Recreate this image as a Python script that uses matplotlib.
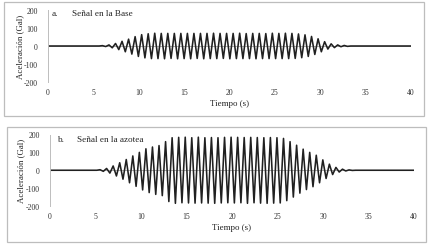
import numpy as np
import matplotlib
matplotlib.use("Agg")
import matplotlib.pyplot as plt
from matplotlib.patches import Rectangle

plt.rcParams['font.family'] = ['Liberation Serif', 'DejaVu Serif']
plt.rcParams['axes.unicode_minus'] = False

# peak amplitudes (Gal), one per half cycle, sign alternates
half_period = 0.36  # s
t0_base = 6.0
amp_base = [2, 3, 6, 10, 14, 20, 26, 32, 38, 45, 52, 58, 63, 66, 68,
            70, 71, 70, 70, 71, 70, 69, 70, 71, 70, 70, 70, 71, 70, 69,
            70, 71, 70, 70, 71, 70, 70, 69, 70, 71, 70, 70, 71, 70, 69,
            70, 70, 71, 70, 70, 69, 70, 71, 70, 70, 70, 71, 70,
            70, 69, 67, 65, 62, 58, 53, 47, 40, 32, 24, 17, 12, 9, 6, 4, 3, 2]

t0_top = 5.5
amp_top = [3, 6, 10, 16, 24, 32, 42, 50, 60, 70, 80, 90, 100, 110, 120, 125,
           130, 135, 138, 142, 160, 175, 182, 185,
           184, 182, 185, 183, 182, 184, 185, 183, 182, 184, 183, 185, 182, 183,
           184, 182, 185, 183, 184, 182, 183, 185, 184, 182, 183, 184, 182, 185,
           183, 184, 182, 183,
           178, 170, 160, 150, 140, 128, 118, 108, 100, 92, 84, 70, 58, 46, 34,
           24, 16, 10, 6, 4, 2, 1]

x_ticks = [0, 5, 10, 15, 20, 25, 30, 35, 40]
y_ticks = [200, 100, 0, -100, -200]
titles = ["Señal en la Base", "Señal en la azotea"]
letters = ["a.", "b."]

W, H = 431, 251
fig = plt.figure(figsize=(W / 100, H / 100), dpi=100)


def signal(t0, amps):
    amps = np.array(amps, dtype=float)
    signs = np.where(np.arange(len(amps)) % 2 == 0, 1.0, -1.0)
    t = t0 + half_period * np.arange(len(amps))
    t = np.concatenate([[0, t0 - half_period], t, [t[-1] + half_period, 40]])
    y = np.concatenate([[0, 0], amps * signs, [0, 0]])
    return t, y


def px(x0, y0, x1, y1):
    # pixel box (top-left origin) -> figure fraction
    return [x0 / W, 1 - y1 / H, (x1 - x0) / W, (y1 - y0) / H]


panels = [
    dict(box=(4, 3, 424, 117), ax=(48, 11, 411, 83), t0=t0_base, amp=amp_base,
         lx=52, tx=72, ty=14.5, ylx=24),
    dict(box=(7, 128, 426, 243), ax=(50, 135.5, 414, 207), t0=t0_top, amp=amp_top,
         lx=58, tx=77, ty=140, ylx=25),
]

for i, p in enumerate(panels):
    b = p['box']
    fig.patches.append(Rectangle((b[0] / W, 1 - b[3] / H), (b[2] - b[0]) / W,
                                 (b[3] - b[1]) / H, transform=fig.transFigure,
                                 fill=False, edgecolor='#bdbdbd', lw=0.9))
    ax = fig.add_axes(px(*p['ax']))
    t, y = signal(p['t0'], p['amp'])
    ax.axhline(0, color='#8c8c8c', lw=0.5, zorder=1)
    ax.plot(t, y, color='#202020', lw=1.15, zorder=2, solid_joinstyle='round')
    ax.set_xlim(0, 40)
    ax.set_ylim(-200, 200)
    for s in ['top', 'right', 'bottom']:
        ax.spines[s].set_visible(False)
    ax.spines['left'].set_color('#bdbdbd')
    ax.spines['left'].set_linewidth(0.7)
    ax.set_xticks(x_ticks)
    ax.set_xticklabels([str(v) for v in x_ticks])
    ax.set_yticks(y_ticks)
    ax.set_yticklabels([str(v) for v in y_ticks])
    ax.tick_params(length=0, labelsize=5.6, colors='#333333')
    ax.tick_params(axis='y', pad=7.5)
    ax.tick_params(axis='x', pad=4)
    ax.set_xlabel("Tiempo (s)", fontsize=6.4, labelpad=2.5, color='#222222')
    ax.set_ylabel("Aceleración (Gal)", fontsize=6.4, color='#222222')
    axw = p['ax'][2] - p['ax'][0]
    ax.yaxis.set_label_coords((p['ylx'] - p['ax'][0]) / axw, 0.5)
    ax.patch.set_alpha(0)
    fig.text(p['lx'] / W, 1 - p['ty'] / H, letters[i], fontsize=6.6,
             va='center', ha='left', color='#222222')
    fig.text(p['tx'] / W, 1 - p['ty'] / H, titles[i], fontsize=6.6,
             va='center', ha='left', color='#222222')

fig.savefig("out.png", dpi=100)
